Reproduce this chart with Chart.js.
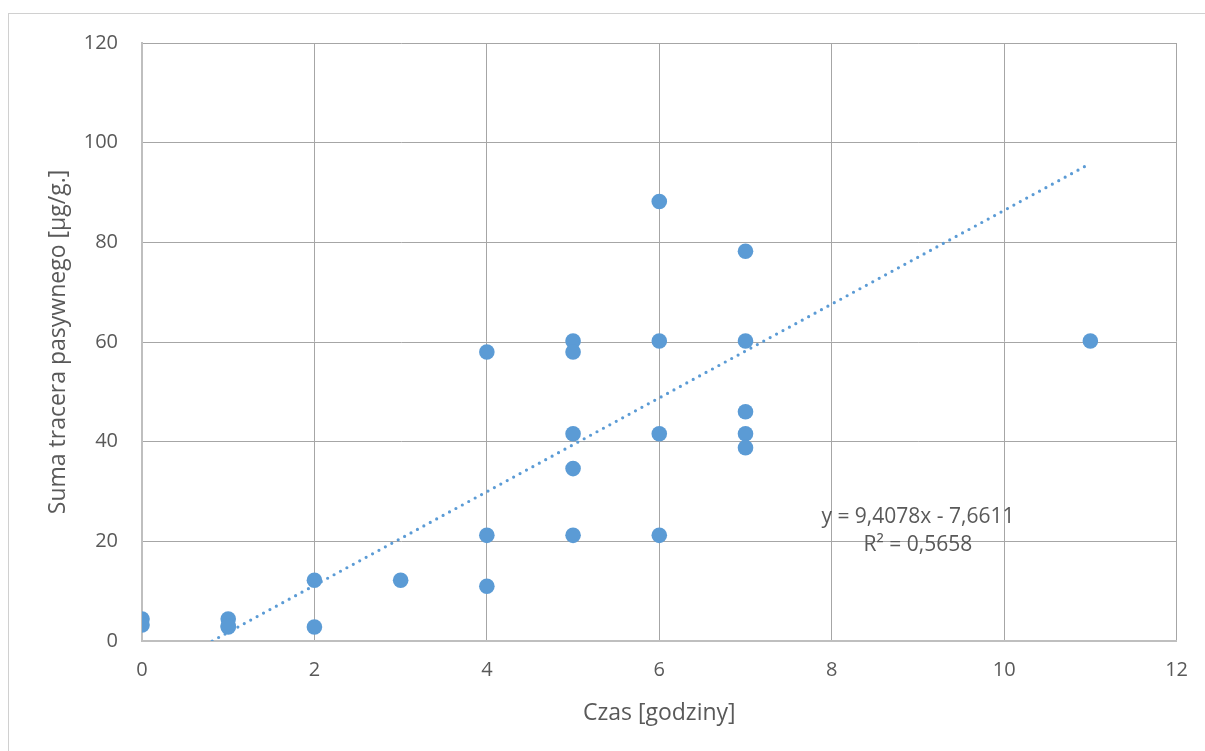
<!DOCTYPE html>
<html>
<head>
<meta charset="utf-8">
<script src="https://cdn.jsdelivr.net/npm/chart.js@4"></script>
<style>
html,body{margin:0;padding:0;background:#fff;}
#wrap{position:absolute;left:0;top:0;width:1205px;height:751px;}
#frame{position:absolute;left:8px;top:13px;width:1205px;height:751px;border-left:1px solid #d0d0d0;border-top:1px solid #d0d0d0;box-sizing:border-box;}
canvas{position:absolute;left:0;top:0;}
</style>
</head>
<body>
<div id="wrap">
<div id="frame"></div>
<canvas id="c" width="1205" height="751"></canvas>
</div>
<script>
// Data
const hoursX = [0,0, 1,1,1, 2,2, 3, 4,4,4, 5,5,5,5,5, 6,6,6,6, 7,7,7,7,7, 11];
const tracerY = [4.4,3.2, 4.4,3.0,2.8, 12.2,2.8, 12.2, 58,21.2,11, 60.2,58,41.6,34.6,21.2, 88.2,60.2,41.6,21.2, 78.2,60.2,46,41.6,38.8, 60.2];
const xTicks = [0,2,4,6,8,10,12];
const yTicks = [0,20,40,60,80,100,120];
// Trendline as shown in the chart equation
const trendSlope = 9.4078;
const trendIntercept = -7.6611;
const trendXRange = [-trendIntercept/trendSlope, 11];
const eqLines = ["y = 9,4078x - 7,6611", "R² = 0,5658"];

const pts = hoursX.map((x,i)=>({x:x,y:tracerY[i]}));
const trend = trendXRange.map(x=>({x:x,y:trendSlope*x+trendIntercept}));

const FONT = "'Open Sans', 'Noto Sans', sans-serif";
const TXT = '#595959';
const BLUE = '#5B9BD5';

const eqPlugin = {
  id:'eq',
  afterDatasetsDraw(chart){
    const ctx = chart.ctx, xs = chart.scales.x, ys = chart.scales.y;
    ctx.save();
    ctx.fillStyle = TXT;
    ctx.font = "21px " + FONT;
    ctx.textAlign = 'center';
    ctx.textBaseline = 'middle';
    const cx = xs.getPixelForValue(9.0);
    ctx.fillText(eqLines[0], cx, ys.getPixelForValue(24.9));
    ctx.fillText(eqLines[1], cx, ys.getPixelForValue(19.2));
    ctx.restore();
  }
};

new Chart(document.getElementById('c'), {
  type:'scatter',
  data:{
    datasets:[
      {label:'Trend', type:'line', data:trend, borderColor:BLUE, borderWidth:3.2,
       borderDash:[0,7.3], borderCapStyle:'round', pointRadius:0, fill:false, order:0},
      {label:'Dane', data:pts, backgroundColor:BLUE, borderWidth:0, pointRadius:7.8,
       pointHoverRadius:7.8, order:1}
    ]
  },
  options:{
    responsive:false,
    animation:false,
    events:[],
    layout:{padding:{left:0,top:43,right:28,bottom:0}},
    plugins:{legend:{display:false},tooltip:{enabled:false}},
    scales:{
      x:{
        type:'linear', min:0, max:12,
        afterBuildTicks(s){ s.ticks = xTicks.map(v=>({value:v})); },
        afterFit(s){ s.height = 110; },
        grid:{color:'#a6a6a6', lineWidth:1, drawTicks:false},
        border:{color:'#bfbfbf', width:2},
        ticks:{padding:17, color:TXT, font:{family:FONT, size:20}},
        title:{display:true, text:'Czas [godziny]', color:TXT, font:{family:FONT, size:23}, padding:{top:0,bottom:24}}
      },
      y:{
        type:'linear', min:0, max:120,
        afterBuildTicks(s){ s.ticks = yTicks.map(v=>({value:v})); },
        afterFit(s){ s.width = 142; },
        grid:{color:'#a6a6a6', lineWidth:1, drawTicks:false},
        border:{color:'#bfbfbf', width:2},
        ticks:{padding:24, color:TXT, font:{family:FONT, size:20}},
        title:{display:true, text:'Suma tracera pasywnego [µg/g.]', color:TXT, font:{family:FONT, size:23}, padding:{top:45,bottom:0}}
      }
    }
  },
  plugins:[eqPlugin]
});
</script>
</body>
</html>
